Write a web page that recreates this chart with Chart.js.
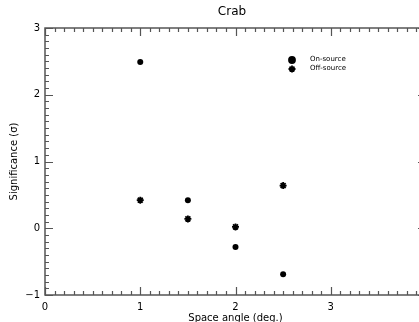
<!DOCTYPE html>
<html>
<head>
<meta charset="utf-8">
<script src="https://cdn.jsdelivr.net/npm/chart.js@4"></script>
<style>
  html, body { margin: 0; padding: 0; background: #fff; overflow: hidden; }
  canvas { display: block; }
</style>
</head>
<body>
<canvas id="crabChart" width="432" height="322"></canvas>
<script>
// space angle (deg.)
const angles = [1, 1.5, 2, 2.5];
const onSource = [2.49, 0.42, -0.28, -0.69];
const offSource = [0.42, 0.14, 0.02, 0.64];
const xTicks = [0, 1, 2, 3, 4];
const yTicks = [-1, 0, 1, 2, 3];

const axisColor = '#555';

function toPoints(ys) {
    return angles.map((x, i) => ({ x: x, y: ys[i] }));
}

// IDL-style box with inward major/minor ticks, title and legend
const boxTicks = {
    id: 'boxTicks',
    beforeDatasetsDraw(chart) {
        const ctx = chart.ctx;
        const a = chart.chartArea;
        const xs = chart.scales.x;
        const ys = chart.scales.y;
        ctx.save();
        ctx.strokeStyle = axisColor;
        ctx.lineWidth = 1.5;
        ctx.strokeRect(a.left, a.top, a.right - a.left, a.bottom - a.top);
        ctx.lineWidth = 1.2;
        ctx.beginPath();
        for (let i = 0; i <= 40; i++) {
            const v = i / 10;
            const px = Math.round(xs.getPixelForValue(v)) + 0.5;
            const len = i % 10 === 0 ? 8 : 4;
            ctx.moveTo(px, a.bottom); ctx.lineTo(px, a.bottom - len);
            ctx.moveTo(px, a.top); ctx.lineTo(px, a.top + len);
        }
        for (let i = -10; i <= 30; i++) {
            const v = i / 10;
            const py = Math.round(ys.getPixelForValue(v)) + 0.5;
            const len = i % 10 === 0 ? 8 : 4;
            ctx.moveTo(a.left, py); ctx.lineTo(a.left + len, py);
            ctx.moveTo(a.right, py); ctx.lineTo(a.right - len, py);
        }
        ctx.stroke();
        ctx.restore();
    },
    afterDraw(chart) {
        const ctx = chart.ctx;
        const a = chart.chartArea;
        ctx.save();
        // title, centred over the visible part of the plot box
        ctx.fillStyle = '#000';
        ctx.font = '12px "DejaVu Sans"';
        ctx.textAlign = 'center';
        ctx.textBaseline = 'middle';
        ctx.fillText('Crab', 232, 12);
        // legend inside the plot
        const items = [
            { text: 'On-source', style: 'circle', r: 3, y: 60 },
            { text: 'Off-source', style: 'star', r: 3.5, y: 69 }
        ];
        ctx.textAlign = 'left';
        items.forEach(it => {
            ctx.fillStyle = '#000';
            ctx.strokeStyle = '#000';
            ctx.lineWidth = 1.8;
            Chart.helpers.drawPoint(ctx, { pointStyle: it.style, radius: it.r, borderWidth: 1.8 }, 292, it.y);
            ctx.font = '7px "DejaVu Sans"';
            ctx.fillText(it.text, 310, it.y - 1);
        });
        ctx.restore();
    }
};

const ctx = document.getElementById('crabChart').getContext('2d');
new Chart(ctx, {
    type: 'scatter',
    data: {
        datasets: [{
            label: 'On-source',
            data: toPoints(onSource),
            pointStyle: 'circle',
            pointRadius: 3,
            backgroundColor: '#000',
            borderColor: '#000',
            borderWidth: 0
        }, {
            label: 'Off-source',
            data: toPoints(offSource),
            pointStyle: 'star',
            pointRadius: 3.5,
            backgroundColor: '#000',
            borderColor: '#000',
            borderWidth: 1.8
        }]
    },
    options: {
        responsive: false,
        animation: false,
        layout: { padding: { left: 0, right: 0, top: 28, bottom: 0 } },
        plugins: {
            legend: { display: false },
            tooltip: { enabled: false },
            title: { display: false }
        },
        scales: {
            x: {
                type: 'linear',
                min: 0,
                max: 4,
                afterBuildTicks: s => { s.ticks = xTicks.map(v => ({ value: v })); },
                afterFit: s => { s.height = 27; },
                grid: { display: false, drawTicks: false },
                border: { display: false },
                ticks: {
                    color: '#000',
                    padding: 6,
                    font: { family: 'DejaVu Sans', size: 10 },
                    callback: v => (v === 4 ? '' : v)
                },
                title: {
                    display: true,
                    text: 'Space angle (deg.)',
                    color: '#000',
                    font: { family: 'DejaVu Sans', size: 10 },
                    padding: { top: -2, bottom: -2 }
                }
            },
            y: {
                type: 'linear',
                min: -1,
                max: 3,
                afterBuildTicks: s => { s.ticks = yTicks.map(v => ({ value: v })); },
                afterFit: s => { s.width = 45; },
                grid: { display: false, drawTicks: false },
                border: { display: false },
                ticks: {
                    color: '#000',
                    padding: 5,
                    font: { family: 'DejaVu Sans', size: 10 },
                    callback: v => (v < 0 ? '\u2212' + Math.abs(v) : v)
                },
                title: {
                    display: true,
                    text: 'Significance (\u03c3)',
                    color: '#000',
                    font: { family: 'DejaVu Sans', size: 10 },
                    padding: { top: 8, bottom: 0 }
                }
            }
        }
    },
    plugins: [boxTicks]
});
</script>
</body>
</html>
